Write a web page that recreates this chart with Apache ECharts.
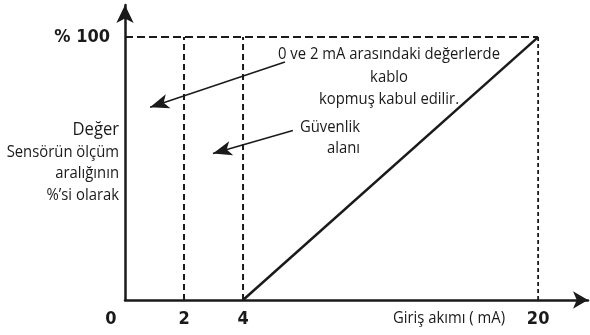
<!DOCTYPE html>
<html><head><meta charset="utf-8">
<script src="https://cdn.jsdelivr.net/npm/echarts@6/dist/echarts.min.js"></script>
<style>html,body{margin:0;padding:0;background:#fff}#c{width:590px;height:335px}</style></head>
<body><div id="c"></div>
<script>
// ---- data ----
const xTickValues = [0, 2, 4, 20];          // mA
const xTickLabels = ['0', '2', '4', '20'];
const yTickValues = [100];
const yTickLabels = ['% 100'];
const signalCurrent = [4, 20];              // mA
const signalPercent = [0, 100];             // %
const boundaryCurrents = [2, 4, 20];        // dashed verticals (mA)
const fullScale = 100;                      // dashed horizontal (%)
const xAxisTitle = 'Giriş akımı ( mA)';
const yAxisTitleLines = ['Değer', 'Sensörün ölçüm', 'aralığının', '%\u2019si olarak'];
const noteBreakLines = ['0 ve 2 mA arasındaki değerlerde', 'kablo', 'kopmuş kabul edilir.'];
const noteSafetyLines = ['Güvenlik', 'alanı'];

// schematic (non-linear) current axis: 0–4 mA spread out, 4–20 mA compressed
function pos(mA) { return mA <= 4 ? mA : 4 + (mA - 4) * 10 / 16; }

const TFONT = '"Open Sans", "Noto Sans", sans-serif';
const BFONT = '"DejaVu Sans Condensed", "DejaVu Sans", sans-serif';
const INK = '#1a1a1a';

// condensed look: squeeze the humanist font horizontally
const mctx = document.createElement('canvas').getContext('2d');
mctx.font = '17px ' + TFONT;
const SX = 222 / mctx.measureText(noteBreakLines[0]).width;

const signalData = signalCurrent.map((c, i) => [pos(c), signalPercent[i]]);
const lastIdx = boundaryCurrents.length - 1;
const guideSeries = boundaryCurrents.map((c, i) => ({
  type: 'line', silent: true, symbol: 'none',
  data: [[pos(c), 0], [pos(c), fullScale]],
  lineStyle: i === lastIdx ? { color: INK, width: 1.8, type: [4, 3] } : { color: INK, width: 2, type: [6, 4] }
}));
guideSeries.push({
  type: 'line', silent: true, symbol: 'none',
  data: [[0, fullScale], [pos(xTickValues[xTickValues.length - 1]), fullScale]],
  lineStyle: { color: INK, width: 2, type: [8, 4] }
});

function txt(x, y, lines, align, size, lh) {
  return { type: 'text', x: x, y: y, scaleX: SX,
    style: { text: lines.join('\n'), align: align, lineHeight: lh, font: size + 'px ' + TFONT, fill: INK } };
}

const chart = echarts.init(document.getElementById('c'), null, { renderer: 'canvas' });
chart.setOption({
  animation: false,
  grid: { left: 125, right: 2, top: 5, bottom: 35 },
  xAxis: {
    type: 'value', min: 0, max: 15.69,
    splitLine: { show: false },
    axisTick: { show: false },
    axisLine: { lineStyle: { color: INK, width: 2.5 }, symbol: ['none', 'arrow'], symbolSize: [13, 15] },
    axisLabel: {
      customValues: xTickValues.map(pos),
      margin: 10,
      formatter: v => {
        const i = xTickValues.map(pos).findIndex(p => Math.abs(p - v) < 1e-6);
        const t = i >= 0 ? xTickLabels[i] : '';
        return i === 0 ? '{z|' + t + '}' : t;
      },
      color: INK, fontFamily: BFONT, fontSize: 18, fontWeight: 'bold',
      rich: { z: { color: INK, fontFamily: BFONT, fontSize: 18, fontWeight: 'bold', padding: [0, 28, 0, 0] } }
    }
  },
  yAxis: {
    type: 'value', min: 0, max: 112.2,
    splitLine: { show: false },
    axisTick: { show: false },
    axisLine: { lineStyle: { color: INK, width: 2.5 }, symbol: ['none', 'arrow'], symbolSize: [13, 18] },
    axisLabel: {
      customValues: yTickValues,
      margin: 15,
      formatter: v => { const i = yTickValues.indexOf(v); return i >= 0 ? yTickLabels[i] : ''; },
      color: INK, fontFamily: BFONT, fontSize: 18, fontWeight: 'bold', padding: [6, 0, 0, 0]
    }
  },
  series: [
    ...guideSeries,
    {
      type: 'line', silent: true, symbol: 'none',
      data: signalData,
      lineStyle: { color: INK, width: 2.5 },
      markLine: {
        silent: true, symbol: ['none', 'arrow'], symbolSize: [11, 19],
        label: { show: false },
        lineStyle: { color: INK, width: 1.5, type: 'solid' },
        data: [
          [{ coord: [5.42, 90.5] }, { coord: [0.85, 73.3] }],
          [{ coord: [5.69, 64.5] }, { coord: [2.98, 55.7] }]
        ]
      }
    }
  ],
  graphic: [
    txt(389, 43, noteBreakLines, 'center', 17, 22.5),
    txt(360, 116.5, noteSafetyLines, 'right', 17, 21),
    txt(119, 119, [yAxisTitleLines[0]], 'right', 19, 22),
    txt(119, 141, yAxisTitleLines.slice(1), 'right', 17, 21.5),
    txt(449, 308, [xAxisTitle], 'center', 17, 20)
  ]
});
</script>
</body></html>
